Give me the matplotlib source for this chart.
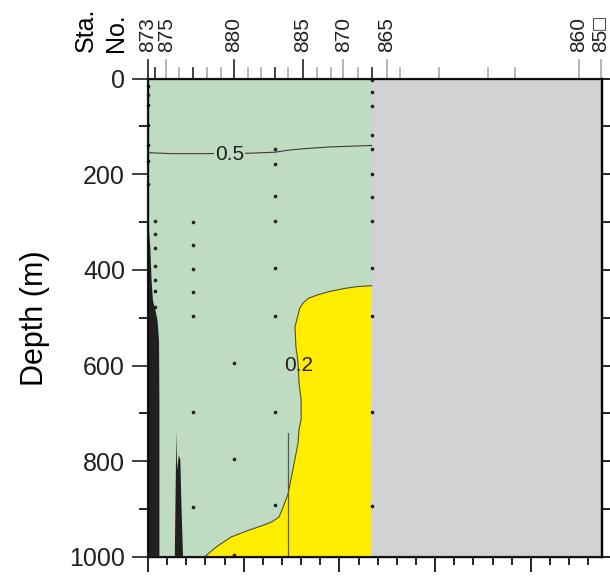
import matplotlib
matplotlib.use("Agg")
import matplotlib.pyplot as plt
from matplotlib.ticker import MultipleLocator

plt.rcParams['font.family'] = ['Liberation Sans', 'DejaVu Sans']

# colours of the section
GREEN = '#bfdbc1'
YELLOW = '#ffee00'
GREY = '#d1d2d4'
BLACK = '#231f20'
TICK_GREY = '#a7a9ac'

# distance along section (km) of every station tick on the top axis
station_km = [0, 3.6, 9.6, 16.0, 23.5, 30.9, 37.9, 44.8, 52.4, 59.0, 66.5, 73.4,
              80.8, 88.3, 95.6, 102.0, 109.8, 116.8, 124.7, 131.7, 152.0, 177.6,
              191.5, 225.0, 236.6]
# stations that were sampled (black ticks)
sampled_km = [0, 3.6, 23.5, 44.8, 66.5, 80.8, 116.8]
# labelled stations (long ticks)
label_km = [0, 9.6, 44.8, 80.8, 102.0, 124.7, 225.0, 236.6]
label_text = ['873', '875', '880', '885', '870', '865', '860', '85\u25a1']

section_end_km = 116.8
x_max = 237.2
depth_max = 1000

# sample depths (m) per cast
cast_km = [0, 3.6, 23.5, 44.8, 66.5, 116.8]
cast_depths = [
    [16, 35, 56, 97, 140, 173, 220],
    [297, 324, 354, 391, 421, 445, 477],
    [299, 348, 398, 446, 497, 697, 895],
    [594, 795, 996],
    [147, 178, 246, 297, 397, 496, 697, 891],
    [3, 29, 58, 119, 148, 199, 248, 298, 396, 497, 698, 893],
]

# 0.5 contour
c05_km = [0, 12, 30, 54, 66.5, 73, 80.5, 95, 116.8]
c05_depth = [155, 157, 157, 156, 154, 150, 147, 143, 140]

# 0.2 contour (values below 0.2 in yellow)
c02_km = [116.9, 109.0, 102.3, 95.0, 88.8, 84.0, 81.0, 79.3, 78.4, 76.8, 77.3, 78.4,
          78.9, 80.0, 80.0, 78.9, 78.4, 76.3, 73.2, 70.5, 68.5, 65.0, 60.7, 52.0,
          43.5, 36.0, 29.4]
c02_depth = [433, 435, 439, 445, 452, 459, 469, 480, 494, 519, 561, 594,
             636, 672, 713, 734, 762, 805, 868, 897, 916, 926, 933, 945,
             958, 978, 1000]

# high-value strip along the shelf edge
strip_depth = [300, 328, 358, 420, 462, 483, 504, 546, 672, 1000]
strip_km = [0, 0.5, 1.0, 1.6, 2.3, 3.6, 4.7, 5.5, 5.7, 5.7]

# narrow high-value spike
spike_km = [14.0, 14.5, 14.8, 15.2, 16.1, 16.9, 17.4, 18.3]
spike_depth = [1000, 839, 738, 818, 787, 797, 881, 1000]

# thin streak
streak_km = 73.2
streak_depth = [740, 1000]

fig = plt.figure(figsize=(6.10, 5.77), dpi=100)
ax = fig.add_axes([148 / 610, 20 / 577, 454 / 610, 478.5 / 577])

ax.fill_between([0, section_end_km], 0, depth_max, color=GREEN, lw=0)
ax.fill_between([section_end_km, x_max], 0, depth_max, color=GREY, lw=0)
ax.fill(c02_km + [section_end_km], c02_depth + [depth_max], color=YELLOW, lw=0)
ax.plot(c02_km, c02_depth, color='#4d4d4d', lw=0.8)
ax.fill_betweenx(strip_depth, 0, strip_km, color=BLACK, lw=0)
ax.fill(spike_km, spike_depth, color=BLACK, lw=0)
ax.plot([streak_km, streak_km], streak_depth, color='#58595b', lw=0.9)
ax.plot(c05_km, c05_depth, color='#3a3a3a', lw=0.8)

for km, depths in zip(cast_km, cast_depths):
    ax.plot([km] * len(depths), depths, 'o', ms=1.6, color=BLACK, zorder=4, clip_on=False)

ax.text(42.5, 158, '0.5', ha='center', va='center', fontsize=15, color='#231f20',
        bbox=dict(fc=GREEN, ec='none', pad=0.6))
ax.text(78.8, 600, '0.2', ha='center', va='center', fontsize=15, color='#231f20')

ax.set_xlim(0, x_max)
ax.set_ylim(depth_max, 0)

for s in ax.spines.values():
    s.set_linewidth(1.6)
    s.set_color(BLACK)

ax.yaxis.set_major_locator(MultipleLocator(200))
ax.yaxis.set_minor_locator(MultipleLocator(100))
ax.xaxis.set_major_locator(MultipleLocator(50))
ax.xaxis.set_minor_locator(MultipleLocator(10))
ax.tick_params(axis='y', which='major', length=11.5, width=1.2, labelsize=18, pad=5, colors=BLACK)
ax.tick_params(axis='y', which='minor', length=6.5, width=1.2)
ax.tick_params(axis='x', which='major', length=10.8, width=1.2, labelbottom=False)
ax.tick_params(axis='x', which='minor', length=5.5, width=1.2)

# right-hand ticks
axr = ax.twinx()
axr.set_ylim(depth_max, 0)
axr.yaxis.set_major_locator(MultipleLocator(100))
axr.tick_params(axis='y', length=5.8, width=1.2, labelright=False)
axr.spines['right'].set_linewidth(1.6)

# station ticks and labels on top
trans = ax.get_xaxis_transform()
for km in station_km:
    tall = km in label_km
    black = km in sampled_km
    ax.plot([km, km], [1.0, 1.0 + (0.0397 if tall else 0.0209)], transform=trans,
            color=BLACK if black else TICK_GREY, lw=1.2, clip_on=False, zorder=1)
for km, lab in zip(label_km, label_text):
    ax.annotate(lab, xy=(km, 1.0), xycoords=trans, xytext=(0, 19), textcoords='offset points',
                rotation=90, ha='center', va='bottom', fontsize=15, color=BLACK)

fig.text(86 / 610, 1 - 52 / 577, 'Sta.', rotation=90, ha='center', va='bottom', fontsize=18)
fig.text(116 / 610, 1 - 52 / 577, 'No.', rotation=90, ha='center', va='bottom', fontsize=18)
fig.text(35 / 610, 1 - 318 / 577, 'Depth (m)', rotation=90, ha='center', va='center', fontsize=22)

fig.savefig('out.png', dpi=100)
